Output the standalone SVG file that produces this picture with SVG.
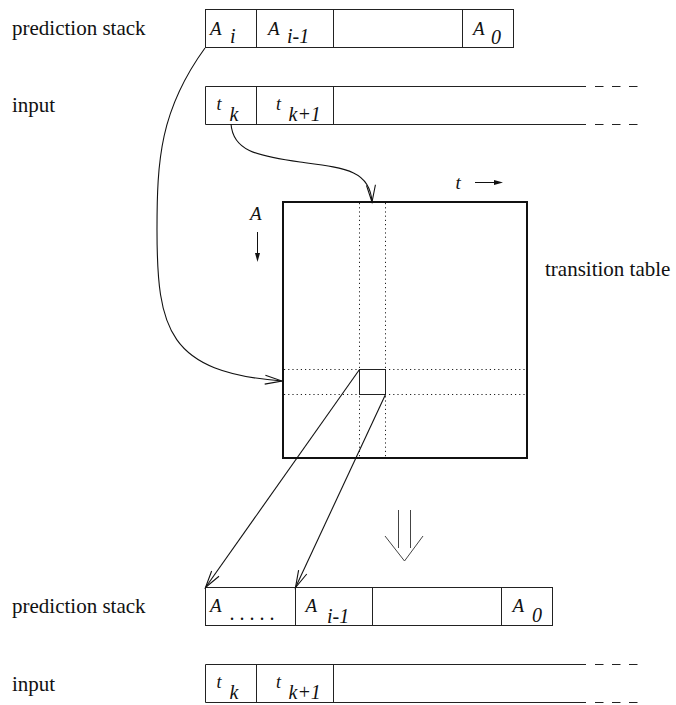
<svg xmlns="http://www.w3.org/2000/svg" width="676" height="705" viewBox="0 0 676 705">
<style>
text{font-family:'Liberation Serif','Times New Roman','DejaVu Serif',serif}
.lbl{font-size:21px;fill:#111}
.it{font-style:italic;fill:#111}
.a{font-size:19px}
.s{font-size:20px}
.t{font-size:18px}
.box{fill:none;stroke:#222;stroke-width:1}
.dash{stroke:#222;stroke-width:1.2;stroke-dasharray:8.5,8.5}
.dot{stroke:#222;stroke-width:1;stroke-dasharray:1.2,3;fill:none}
.conn{fill:none;stroke:#111;stroke-width:1.1}
</style>
<defs>
<marker id="open" markerUnits="userSpaceOnUse" markerWidth="24" markerHeight="14" refX="18" refY="6" orient="auto" overflow="visible">
<path d="M1,1.5 L18,6 L1,10.5" fill="none" stroke="#111" stroke-width="1.1"/>
</marker>
</defs>
<rect width="676" height="705" fill="#fff"/>

<g id="labels">
<text class="lbl" x="12" y="35">prediction stack</text>
<text class="lbl" x="12" y="112">input</text>
<text class="lbl" x="545" y="276">transition table</text>
<text class="lbl" x="12" y="613">prediction stack</text>
<text class="lbl" x="12" y="691">input</text>
</g>

<g id="top-stack">
<rect class="box" x="205.5" y="9.5" width="308" height="38"/>
<line class="box" x1="256.5" y1="9.5" x2="256.5" y2="47.5"/>
<line class="box" x1="333.5" y1="9.5" x2="333.5" y2="47.5"/>
<line class="box" x1="462.5" y1="9.5" x2="462.5" y2="47.5"/>
<text class="it a" x="210" y="35">A</text><text class="it s" x="230" y="43">i</text>
<text class="it a" x="268" y="35">A</text><text class="it s" x="287" y="43">i-1</text>
<text class="it a" x="473" y="35">A</text><text class="it s" x="491" y="44">0</text>
</g>

<g id="top-input">
<line class="box" x1="205.5" y1="86.5" x2="586" y2="86.5"/>
<line class="box" x1="205.5" y1="124.5" x2="586" y2="124.5"/>
<line class="dash" x1="595" y1="86.5" x2="638" y2="86.5"/>
<line class="dash" x1="595" y1="124.5" x2="638" y2="124.5"/>
<line class="box" x1="205.5" y1="86.5" x2="205.5" y2="124.5"/>
<line class="box" x1="256.5" y1="86.5" x2="256.5" y2="124.5"/>
<line class="box" x1="333.5" y1="86.5" x2="333.5" y2="124.5"/>
<text class="it t" x="216.5" y="110">t</text><text class="it s" x="229.5" y="120.5">k</text>
<text class="it t" x="276" y="110">t</text><text class="it s" x="288.5" y="120.5">k+1</text>
</g>

<g id="transition-table">
<rect x="283" y="202" width="244" height="256" fill="none" stroke="#111" stroke-width="2"/>
<line class="dot" x1="359.5" y1="203" x2="359.5" y2="457"/>
<line class="dot" x1="385.5" y1="203" x2="385.5" y2="457"/>
<line class="dot" x1="284" y1="369.5" x2="526" y2="369.5"/>
<line class="dot" x1="284" y1="394.5" x2="526" y2="394.5"/>
<rect class="box" x="359.5" y="369.5" width="26" height="25"/>
<text class="it a" x="455.5" y="189">t</text>
<line x1="475" y1="182.5" x2="498" y2="182.5" stroke="#111" stroke-width="1"/>
<path d="M494,180 L503,182.5 L494,185 Z" fill="#111"/>
<text class="it a" x="250" y="220">A</text>
<line x1="257.5" y1="232" x2="257.5" y2="257" stroke="#111" stroke-width="1"/>
<path d="M255,253 L257.5,262 L260,253 Z" fill="#111"/>
</g>

<g id="double-arrow" fill="none" stroke="#444" stroke-width="1">
<line x1="398.5" y1="510" x2="398.5" y2="548"/>
<line x1="410.5" y1="510" x2="410.5" y2="548"/>
<path d="M385,536 L404.5,561 L423,536"/>
</g>

<g id="bottom-stack">
<rect class="box" x="205.5" y="587.5" width="347" height="38"/>
<line class="box" x1="295.5" y1="587.5" x2="295.5" y2="625.5"/>
<line class="box" x1="372.5" y1="587.5" x2="372.5" y2="625.5"/>
<line class="box" x1="501.5" y1="587.5" x2="501.5" y2="625.5"/>
<text class="it a" x="210" y="612">A</text><text class="it s" x="230" y="619.5">. . . . .</text>
<text class="it a" x="305.5" y="612">A</text><text class="it s" x="327" y="622.5">i-1</text>
<text class="it a" x="512.5" y="612">A</text><text class="it s" x="532" y="622">0</text>
</g>

<g id="bottom-input">
<line class="box" x1="205.5" y1="664.5" x2="586" y2="664.5"/>
<line class="box" x1="205.5" y1="702.5" x2="586" y2="702.5"/>
<line class="dash" x1="595" y1="664.5" x2="638" y2="664.5"/>
<line class="dash" x1="595" y1="702.5" x2="638" y2="702.5"/>
<line class="box" x1="205.5" y1="664.5" x2="205.5" y2="702.5"/>
<line class="box" x1="256.5" y1="664.5" x2="256.5" y2="702.5"/>
<line class="box" x1="333.5" y1="664.5" x2="333.5" y2="702.5"/>
<text class="it t" x="216.5" y="688">t</text><text class="it s" x="229.5" y="698.5">k</text>
<text class="it t" x="276" y="688">t</text><text class="it s" x="288.5" y="698.5">k+1</text>
</g>

<g id="connectors">
<path class="conn" d="M205,48 C160,110 157,160 157,230 C157,330 168,372 282,381" marker-end="url(#open)"/>
<path class="conn" d="M231,124 C233,150 255,156 300,162 C345,168 370,170 372,202" marker-end="url(#open)"/>
<path class="conn" d="M359.5,369.5 L205.5,587.5" marker-end="url(#open)"/>
<path class="conn" d="M385.5,394.5 L295.5,587.5" marker-end="url(#open)"/>
</g>
</svg>
